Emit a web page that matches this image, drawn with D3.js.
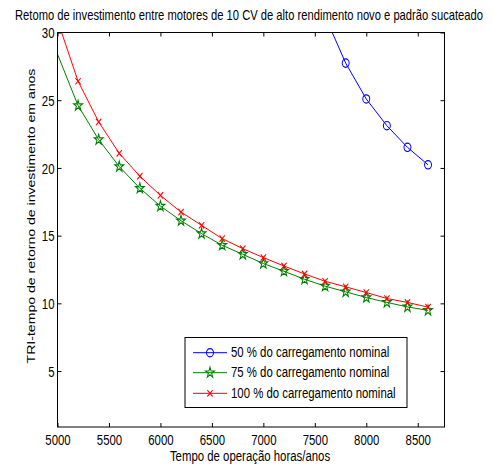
<!DOCTYPE html>
<html>
<head>
<meta charset="utf-8">
<script src="https://cdn.jsdelivr.net/npm/d3@7"></script>
<style>
  html, body { margin: 0; padding: 0; background: #fff; }
  svg text { font-family: "Liberation Sans", Arial, sans-serif; fill: #000; }
</style>
</head>
<body>
<svg id="chart" width="494" height="465"></svg>
<script>
// Hours of operation per year (x) and payback time in years (y)
const hours = [5000, 5200, 5400, 5600, 5800, 6000, 6200, 6400, 6600, 6800,
               7000, 7200, 7400, 7600, 7800, 8000, 8200, 8400, 8600];
const load50 = [null, null, null, null, null, null, null, null, null, null,
                null, null, null, 31.2, 27.74, 25.09, 23.12, 21.52, 20.23];
const load75 = [28.4, 24.6, 22.09, 20.1, 18.5, 17.18, 16.1, 15.15, 14.29, 13.62,
                12.94, 12.37, 11.78, 11.27, 10.85, 10.43, 10.07, 9.74, 9.48];
const load100 = [30.9, 26.4, 23.4, 21.08, 19.39, 17.97, 16.74, 15.76, 14.78, 14.04,
                 13.38, 12.76, 12.17, 11.63, 11.22, 10.8, 10.36, 10.07, 9.72];

const seriesNames = ["50 % do carregamento nominal",
                     "75 % do carregamento nominal",
                     "100 % do carregamento nominal"];
const seriesColors = ["#0000ff", "#008000", "#ff0000"];

const xTicks = [5000, 5500, 6000, 6500, 7000, 7500, 8000, 8500];
const yTicks = [5, 10, 15, 20, 25, 30];
const xDomain = [5000, 8760];
const yDomain = [0.87, 30];

const title = "Retomo de investimento entre motores de 10 CV de alto rendimento novo e padrão sucateado";
const xLabel = "Tempo de operação horas/anos";
const yLabel = "TRI-tempo de retorno de investimento em anos";

// Text is drawn taller than wide
const SY = 1.28;
const FS = 11.4;

const svg = d3.select("#chart");
const plot = { left: 57.5, top: 32.5, right: 444.5, bottom: 427 };

const x = d3.scaleLinear(xDomain, [plot.left, plot.right]);
const y = d3.scaleLinear(yDomain, [plot.bottom, plot.top]);

svg.append("defs").append("clipPath").attr("id", "plotClip")
  .append("rect")
  .attr("x", plot.left).attr("y", plot.top)
  .attr("width", plot.right - plot.left).attr("height", plot.bottom - plot.top);

// Axes with inward ticks on all four sides
function styleAxis(g) {
  g.select(".domain").remove();
  g.selectAll(".tick line").attr("stroke", "#000");
}

const gx = svg.append("g").attr("transform", `translate(0,${plot.bottom})`)
  .call(d3.axisBottom(x).tickValues(xTicks).tickSizeInner(-4).tickSizeOuter(0).tickFormat(d3.format("d")))
  .call(styleAxis);
gx.selectAll(".tick text")
  .attr("y", null).attr("dy", null)
  .attr("font-size", FS)
  .attr("transform", `translate(0,17.8) scale(1,${SY})`);

const gy = svg.append("g").attr("transform", `translate(${plot.left},0)`)
  .call(d3.axisLeft(y).tickValues(yTicks).tickSizeInner(-4).tickSizeOuter(0))
  .call(styleAxis);
gy.selectAll(".tick text")
  .attr("x", null).attr("dy", "0.36em")
  .attr("font-size", FS)
  .attr("transform", `translate(-3,0) scale(1,${SY})`);

svg.append("g").attr("transform", `translate(0,${plot.top})`)
  .call(d3.axisTop(x).tickValues(xTicks).tickSizeInner(-4).tickSizeOuter(0).tickFormat(""))
  .call(styleAxis);
svg.append("g").attr("transform", `translate(${plot.right},0)`)
  .call(d3.axisRight(y).tickValues(yTicks).tickSizeInner(-4).tickSizeOuter(0).tickFormat(""))
  .call(styleAxis);

// Series
const series = [
  { values: load50, color: seriesColors[0], symbol: d3.symbolCircle, size: 38 },
  { values: load75, color: seriesColors[1], symbol: d3.symbolStar, size: 24 },
  { values: load100, color: seriesColors[2], symbol: d3.symbolTimes, size: 20 }
];

const line = d3.line()
  .defined(d => d[1] != null)
  .x(d => x(d[0]))
  .y(d => y(d[1]));

const plotArea = svg.append("g").attr("clip-path", "url(#plotClip)");

series.forEach(s => {
  const pts = hours.map((h, i) => [h, s.values[i]]);
  plotArea.append("path")
    .attr("d", line(pts))
    .attr("fill", "none")
    .attr("stroke", s.color)
    .attr("stroke-width", 1);
  // markers start at 5200 h; the 5000 h point sits on the axis edge
  const sym = d3.symbol(s.symbol, s.size);
  plotArea.selectAll(null)
    .data(pts.filter(p => p[1] != null && p[0] > xDomain[0]))
    .join("path")
    .attr("d", sym)
    .attr("transform", p => `translate(${x(p[0])},${y(p[1])}) scale(1,1.2)`)
    .attr("fill", "none")
    .attr("stroke", s.color)
    .attr("stroke-width", 1);
});

// Frame
svg.append("rect")
  .attr("x", plot.left).attr("y", plot.top)
  .attr("width", plot.right - plot.left).attr("height", plot.bottom - plot.top)
  .attr("fill", "none").attr("stroke", "#000").attr("stroke-width", 1);

// Title and axis labels
svg.append("text")
  .attr("text-anchor", "middle").attr("font-size", 11.2)
  .attr("transform", `translate(249,20) scale(1,${SY})`)
  .text(title);

svg.append("text")
  .attr("text-anchor", "middle").attr("font-size", FS)
  .attr("transform", `translate(250,461.3) scale(1,${SY})`)
  .text(xLabel);

svg.append("text")
  .attr("text-anchor", "middle").attr("font-size", 11)
  .attr("transform", `translate(34.5,216) scale(1,${SY}) rotate(-90)`)
  .text(yLabel);

// Legend
const legend = svg.append("g");
legend.append("rect")
  .attr("x", 185).attr("y", 337.5).attr("width", 222).attr("height", 70)
  .attr("fill", "#fff").attr("stroke", "#000").attr("stroke-width", 1);

const legendY = [352.7, 372.7, 393.3];
series.forEach((s, i) => {
  const cy = legendY[i];
  legend.append("line")
    .attr("x1", 193).attr("x2", 227).attr("y1", cy).attr("y2", cy)
    .attr("stroke", s.color).attr("stroke-width", 1);
  legend.append("path")
    .attr("d", d3.symbol(s.symbol, s.size))
    .attr("transform", `translate(210,${cy}) scale(1,1.2)`)
    .attr("fill", "none").attr("stroke", s.color).attr("stroke-width", 1);
  legend.append("text")
    .attr("font-size", FS)
    .attr("transform", `translate(231,${cy + 4.3}) scale(1,${SY})`)
    .text(seriesNames[i]);
});
</script>
</body>
</html>
